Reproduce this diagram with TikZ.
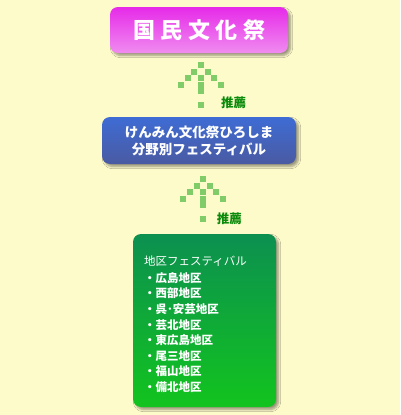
\documentclass[tikz,border=0pt]{standalone}
\usepackage{fontspec}
\setmainfont{Noto Sans CJK JP}
\usetikzlibrary{calc,shadows.blur}

\definecolor{bgyellow}{HTML}{FEFBCB}
\definecolor{pixgreen}{HTML}{80CC68}
\definecolor{tagdark}{HTML}{0A8A0A}
\definecolor{magtop}{HTML}{E62AE8}
\definecolor{magmid}{HTML}{E21CE4}
\definecolor{magbot}{HTML}{F08CF0}
\definecolor{bluetop}{HTML}{3E6CD4}
\definecolor{bluebot}{HTML}{4A5AA2}
\definecolor{greentop}{HTML}{0C9050}
\definecolor{greenbot}{HTML}{12C41E}

\begin{document}
\begin{tikzpicture}[x=1pt,y=-1pt,
      box/.style={rounded corners=8pt, text=white, align=center, inner sep=0pt,
         blur shadow={shadow xshift=2.5pt, shadow yshift=-2.5pt,
            shadow opacity=40, shadow blur steps=6}},
      pix/.style={fill=pixgreen},
      tag/.style={text=tagdark, inner sep=0pt,
         font=\bfseries\fontsize{12.5}{14}\selectfont}]
   \useasboundingbox (0,0) rectangle (400,415);
   \fill [bgyellow] (0,0) rectangle (400,415);

   \node [box, minimum width=178, minimum height=46,
          top color=magtop, middle color=magmid, bottom color=magbot,
          font=\bfseries\fontsize{22}{24}\selectfont]
      (kokumin) at (199,30)
      {国\hspace{5.5pt}民\hspace{5.5pt}文\hspace{5.5pt}化\hspace{5.5pt}祭};

   \node [box, minimum width=194, minimum height=47,
          top color=bluetop, bottom color=bluebot,
          font=\bfseries\fontsize{13.5}{17}\selectfont]
      (kenmin) at (199,140.5)
      {けんみん文化祭ひろしま\\分野別フェスティバル};

   \node [box, minimum width=143, minimum height=173,
          top color=greentop, bottom color=greenbot]
      (chiku) at (204.5,320.5) {};
   \node [anchor=north west, inner sep=0pt, text=white, align=left,
          font=\fontsize{11.5}{15.6}\selectfont]
      (chikulist) at ($(chiku.north west)+(11,22)$)
      {地区フェスティバル\\[1pt]
       \bfseries ・広島地区\\ \bfseries ・西部地区\\ \bfseries ・呉･安芸地区\\
       \bfseries ・芸北地区\\ \bfseries ・東広島地区\\ \bfseries ・尾三地区\\
       \bfseries ・福山地区\\ \bfseries ・備北地区};

   % pixel arrows between the boxes
   \coordinate (up1) at ($(kokumin.south)!.5!(kenmin.north)+(2,0)$);
   \coordinate (up2) at ($(kenmin.south)!.5!(chiku.north)+(1.5,0)$);
   \foreach \a in {up1,up2}
      \foreach \c/\r in {0/0,-1/1,1/1,-2/2,0/2,2/2,-3/3,0/3,3/3,0/4,0/6}
         \fill [pix] ($(\a)+(\c*6.6-3,\r*6.6-23)$) rectangle +(6,6);

   \node [tag] (tag1) at ($(up1)+(32.5,17.5)$) {推薦};
   \node [tag] (tag2) at ($(up2)+(26,19.5)$) {推薦};
\end{tikzpicture}
\end{document}
